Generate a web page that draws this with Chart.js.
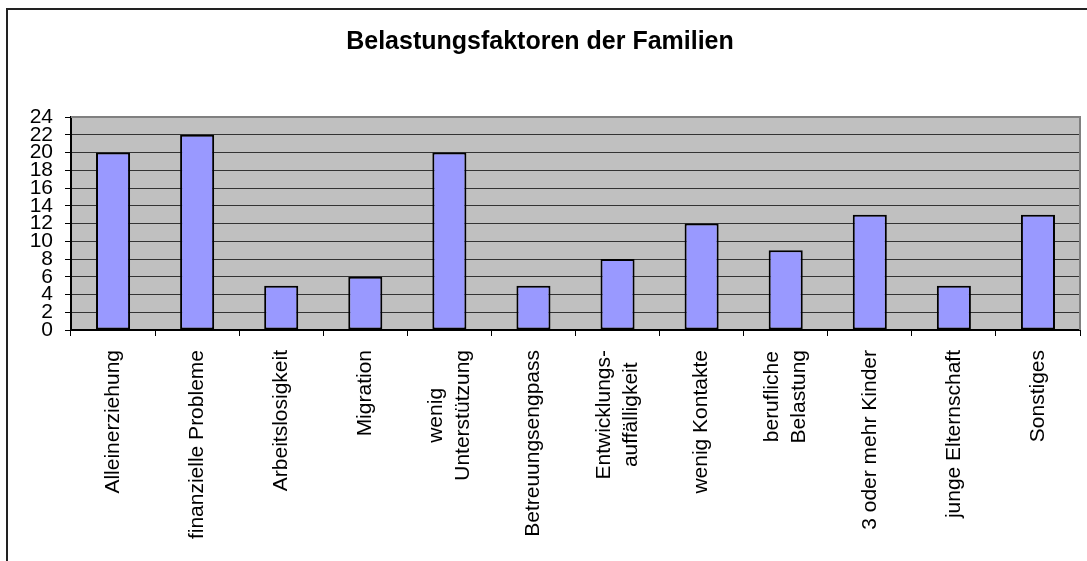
<!DOCTYPE html>
<html>
<head>
<meta charset="utf-8">
<script src="https://cdn.jsdelivr.net/npm/chart.js@4/dist/chart.umd.min.js"></script>
<style>
    html, body { margin: 0; padding: 0; background: #fff; }
    canvas { display: block; }
</style>
</head>
<body>
<canvas id="chart" width="1087" height="561"></canvas>
<script>
const categories = [
    "Alleinerziehung",
    "finanzielle Probleme",
    "Arbeitslosigkeit",
    "Migration",
    ["wenig", "Unterstützung"],
    "Betreuungsengpass",
    ["Entwicklungs-", "auffälligkeit"],
    "wenig Kontakte",
    ["berufliche", "Belastung"],
    "3 oder mehr Kinder",
    "junge Elternschaft",
    "Sonstiges"
];
const values = [20, 22, 5, 6, 20, 5, 8, 12, 9, 13, 5, 13];
const yMin = 0;
const yMax = 24;
const yStep = 2;

const FONT = "'Liberation Sans', Arial, sans-serif";

// ---------------- Frame + plot background ----------------
const excelLook = {
    id: "excelLook",
    beforeDraw(chart) {
        const { ctx, chartArea: a } = chart;
        ctx.save();
        ctx.fillStyle = "#fff";
        ctx.fillRect(0, 0, chart.width, chart.height);
        // outer chart frame (right/bottom edges run off the picture)
        ctx.strokeStyle = "#222";
        ctx.lineWidth = 2;
        ctx.strokeRect(7, 9, chart.width + 20, chart.height + 20);
        ctx.fillStyle = "#c0c0c0";
        ctx.fillRect(a.left, a.top, a.right - a.left, a.bottom - a.top);

        // two-line category labels: block centred on the tick, lines centred on each other
        chart.scales.x.getLabelItems().forEach(item => {
            if (Array.isArray(item.label) && item.label.length > 1) {
                ctx.font = item.font.string;
                const w = Math.max(...item.label.map(l => ctx.measureText(l).width));
                item.options.translation[0] -= (item.label.length - 1) * item.font.lineHeight / 2;
                item.options.translation[1] += w / 2;
                item.options.textAlign = "center";
            }
        });
        ctx.restore();
    },
    afterDraw(chart) {
        const { ctx, chartArea: a } = chart;
        ctx.save();
        ctx.strokeStyle = "#808080";
        ctx.lineWidth = 2;
        ctx.beginPath();
        ctx.moveTo(a.left, a.top);
        ctx.lineTo(a.right, a.top);
        ctx.lineTo(a.right, a.bottom);
        ctx.stroke();
        ctx.restore();
    }
};

new Chart(document.getElementById("chart"), {
    type: "bar",
    data: {
        labels: categories,
        datasets: [{
            data: values,
            backgroundColor: "#9999ff",
            borderColor: "#000",
            borderWidth: 2,
            borderSkipped: false,
            barPercentage: 0.405,
            categoryPercentage: 1
        }]
    },
    options: {
        responsive: false,
        devicePixelRatio: 1,
        animation: false,
        layout: { padding: { left: 0, right: 7, top: 0, bottom: 0 } },
        plugins: {
            legend: { display: false },
            tooltip: { enabled: false },
            title: {
                display: true,
                text: "Belastungsfaktoren der Familien",
                color: "#000",
                font: { family: FONT, size: 25, weight: "bold", lineHeight: 1.2 },
                padding: { top: 27, bottom: 60 }
            }
        },
        scales: {
            x: {
                grid: {
                    offset: true,
                    drawOnChartArea: false,
                    tickLength: 6,
                    tickColor: "#000",
                    lineWidth: 1
                },
                border: { color: "#000", width: 2 },
                ticks: {
                    autoSkip: false,
                    maxRotation: 90,
                    minRotation: 90,
                    padding: 14,
                    color: "#000",
                    font: { family: FONT, size: 21, lineHeight: 1.3 }
                },
                afterFit: (s) => { s.height = 231; }
            },
            y: {
                min: yMin,
                max: yMax,
                grid: {
                    color: "#333",
                    lineWidth: 1,
                    tickLength: 6,
                    tickColor: "#000"
                },
                border: { color: "#000", width: 2 },
                ticks: {
                    stepSize: yStep,
                    autoSkip: false,
                    padding: 12,
                    color: "#000",
                    font: { family: FONT, size: 21, lineHeight: 1 }
                },
                afterFit: (s) => { s.width = 71; }
            }
        }
    },
    plugins: [excelLook]
});
</script>
</body>
</html>
